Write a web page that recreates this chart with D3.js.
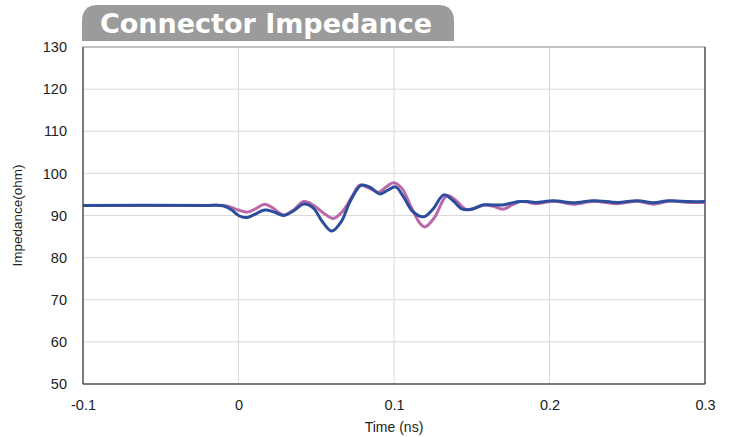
<!DOCTYPE html>
<html>
<head>
<meta charset="utf-8">
<script src="https://cdn.jsdelivr.net/npm/d3@7"></script>
<style>
  body { margin: 0; background: #fff; }
  svg { display: block; }
</style>
</head>
<body>
<svg id="chart" width="742" height="437"></svg>
<script>
// ---- data ----
const titleText = "Connector Impedance";
const xLabel = "Time (ns)";
const yLabel = "Impedance(ohm)";
const xTicks = [-0.1, 0, 0.1, 0.2, 0.3];
const xTickLabels = ["-0.1", "0", "0.1", "0.2", "0.3"];
const yTicks = [50, 60, 70, 80, 90, 100, 110, 120, 130];

const timeBlue = [-0.1, -0.02, -0.01, -0.005, 0.0, 0.005, 0.01, 0.017, 0.023, 0.029, 0.035, 0.042, 0.048, 0.054, 0.060, 0.066, 0.072, 0.079, 0.085, 0.091, 0.096, 0.101, 0.106, 0.112, 0.119, 0.125, 0.132, 0.138, 0.144, 0.150, 0.157, 0.163, 0.170, 0.176, 0.181, 0.186, 0.191, 0.2026, 0.2154, 0.2283, 0.2437, 0.2566, 0.2669, 0.2765, 0.29, 0.3];
const zBlue    = [92.4, 92.4, 92.3, 91.5, 90.0, 89.5, 90.2, 91.3, 90.8, 90.0, 91.0, 92.7, 91.8, 88.5, 86.3, 88.5, 93.5, 97.2, 96.6, 95.1, 96.0, 96.8, 94.5, 91.0, 89.7, 91.5, 94.9, 93.5, 91.5, 91.5, 92.5, 92.5, 92.5, 93.0, 93.3, 93.3, 93.1, 93.5, 93.0, 93.5, 93.1, 93.5, 93.0, 93.5, 93.3, 93.3];

const timePink = [-0.1, -0.02, -0.01, -0.005, 0.0, 0.006, 0.011, 0.017, 0.022, 0.029, 0.035, 0.042, 0.048, 0.055, 0.061, 0.067, 0.073, 0.078, 0.084, 0.090, 0.095, 0.0997, 0.105, 0.111, 0.117, 0.120, 0.126, 0.134, 0.140, 0.146, 0.152, 0.158, 0.164, 0.170, 0.176, 0.181, 0.186, 0.191, 0.2026, 0.2154, 0.2283, 0.2437, 0.2566, 0.2669, 0.2765, 0.29, 0.3];
const zPink    = [92.4, 92.4, 92.4, 92.0, 91.3, 90.8, 91.6, 92.7, 91.8, 90.1, 91.2, 93.3, 92.5, 90.5, 89.3, 91.0, 94.5, 97.2, 96.5, 95.5, 96.8, 97.8, 96.5, 92.0, 88.0, 87.3, 89.5, 94.7, 93.5, 91.5, 91.7, 92.5, 92.2, 91.5, 92.5, 93.3, 93.2, 92.8, 93.4, 92.7, 93.4, 92.8, 93.4, 92.7, 93.4, 93.1, 93.1];

// ---- layout ----
const svg = d3.select("#chart");
const L = 83, R = 705, T = 47, B = 384;
const x = d3.scaleLinear().domain([-0.1, 0.3]).range([L, R]);
const y = d3.scaleLinear().domain([50, 130]).range([B, T]);
const FONT = "Liberation Sans, Arial, sans-serif";

// title tab
const tabL = 82, tabR = 454, tabT = 5, tabB = 41, rad = 16;
svg.append("path")
  .attr("d", `M${tabL},${tabB} L${tabL},${tabT + rad} Q${tabL},${tabT} ${tabL + rad},${tabT} L${tabR - rad},${tabT} Q${tabR},${tabT} ${tabR},${tabT + rad} L${tabR},${tabB} Z`)
  .attr("fill", "#9b9b9b");
svg.append("text")
  .attr("x", 266).attr("y", 33)
  .attr("text-anchor", "middle")
  .attr("font-family", "DejaVu Sans, Verdana, sans-serif")
  .attr("font-weight", "bold")
  .attr("font-size", 27)
  .attr("fill", "#fff")
  .text(titleText);

// grid
const g = svg.append("g");
g.selectAll(".hg").data(yTicks).enter().append("line")
  .attr("x1", L).attr("x2", R)
  .attr("y1", d => y(d)).attr("y2", d => y(d))
  .attr("stroke", "#d9d9d9").attr("stroke-width", 1);
g.selectAll(".vg").data(xTicks).enter().append("line")
  .attr("y1", T).attr("y2", B)
  .attr("x1", d => x(d)).attr("x2", d => x(d))
  .attr("stroke", "#d9d9d9").attr("stroke-width", 1);

// box
svg.append("rect").attr("x", L).attr("y", T).attr("width", R - L).attr("height", B - T)
  .attr("fill", "none").attr("stroke", "#999").attr("stroke-width", 1);
svg.append("path").attr("d", `M${L},${T} L${L},${B} L${R},${B} L${R},${T}`)
  .attr("fill", "none").attr("stroke", "#333").attr("stroke-width", 1);

// axes labels via d3 axes
const xAxis = d3.axisBottom(x).tickValues(xTicks).tickSize(0).tickPadding(16)
  .tickFormat((d, i) => xTickLabels[i]);
const xa = svg.append("g").attr("transform", `translate(0,${B})`).call(xAxis);
xa.select(".domain").remove();
xa.selectAll("text").attr("font-family", FONT).attr("font-size", 14.5).attr("fill", "#222");

const yAxis = d3.axisLeft(y).tickValues(yTicks).tickSize(0).tickPadding(16);
const ya = svg.append("g").attr("transform", `translate(${L},0)`).call(yAxis);
ya.select(".domain").remove();
ya.selectAll("text").attr("font-family", FONT).attr("font-size", 14.5).attr("fill", "#222");

svg.append("text").attr("x", 394).attr("y", 432)
  .attr("text-anchor", "middle")
  .attr("font-family", FONT).attr("font-size", 14).attr("fill", "#222")
  .text(xLabel);
svg.append("text").attr("transform", `translate(22,${(T + B) / 2}) rotate(-90)`)
  .attr("text-anchor", "middle")
  .attr("font-family", FONT).attr("font-size", 13.5).attr("fill", "#222")
  .text(yLabel);

// lines
const line = d3.line().x(d => x(d[0])).y(d => y(d[1])).curve(d3.curveCatmullRom.alpha(0.5));
svg.append("path").datum(timePink.map((t, i) => [t, zPink[i]]))
  .attr("d", line).attr("fill", "none").attr("stroke", "#b5579f").attr("stroke-width", 3)
  .attr("stroke-linejoin", "round").attr("opacity", 0.9);
svg.append("path").datum(timeBlue.map((t, i) => [t, zBlue[i]]))
  .attr("d", line).attr("fill", "none").attr("stroke", "#2b4d9c").attr("stroke-width", 3)
  .attr("stroke-linejoin", "round");
</script>
</body>
</html>
